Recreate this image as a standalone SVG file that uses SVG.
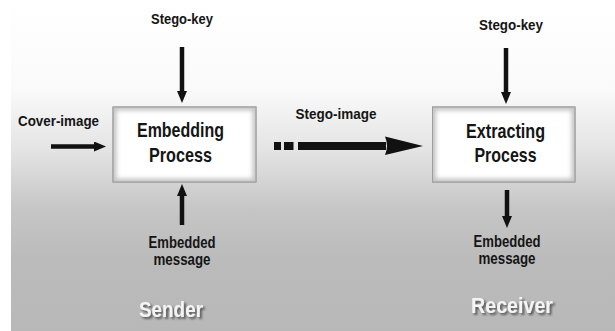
<svg xmlns="http://www.w3.org/2000/svg" width="615" height="331" viewBox="0 0 615 331">
<defs>
<linearGradient id="bg" x1="0" y1="0" x2="0" y2="331" gradientUnits="userSpaceOnUse">
<stop offset="0" stop-color="#ffffff"/>
<stop offset="0.27" stop-color="#fafafa"/>
<stop offset="0.45" stop-color="#e4e4e4"/>
<stop offset="0.63" stop-color="#c6c6c6"/>
<stop offset="0.78" stop-color="#bbbbbb"/>
<stop offset="1" stop-color="#b8b8b8"/>
</linearGradient>
<filter id="blur" x="-10%" y="-10%" width="120%" height="120%"><feGaussianBlur stdDeviation="2"/></filter>
<filter id="shadow" x="-10%" y="-20%" width="130%" height="150%"><feGaussianBlur in="SourceAlpha" stdDeviation="0.8"/><feOffset dx="1.5" dy="1.5" result="o"/><feFlood flood-color="#555"/><feComposite in2="o" operator="in"/><feMerge><feMergeNode/><feMergeNode in="SourceGraphic"/></feMerge></filter>
<clipPath id="c1"><rect x="113" y="107" width="143" height="75"/></clipPath>
<clipPath id="c2"><rect x="432.5" y="107" width="142.5" height="75"/></clipPath>
<marker id="ah" markerUnits="userSpaceOnUse" viewBox="0 0 12 10" markerWidth="12" markerHeight="10" refX="0" refY="5" orient="auto"><path d="M0,0 L12,5 L0,10 z" fill="#111"/></marker>
</defs>
<style>
.t{font-family:"Liberation Sans",Arial,sans-serif;font-weight:bold;fill:#151515;text-anchor:middle}
.s{font-size:15px}
.m{font-size:16px}
.b{font-size:21px}
.w{font-size:22px;fill:#f4f4f4}
.box{fill:#ffffff;stroke:#9c9c9c;stroke-width:1}
.inner{fill:none;stroke:#c4c4c4;stroke-width:7}
.ln{stroke:#111;stroke-width:4.5;fill:none;marker-end:url(#ah)}
</style>
<rect x="0" y="0" width="615" height="331" fill="#ffffff"/>
<rect x="11" y="0" width="604" height="331" fill="url(#bg)"/>

<g id="embedding">
<rect class="box" x="113" y="107" width="143" height="75"/>
<rect class="inner" x="113" y="107" width="143" height="75" filter="url(#blur)" clip-path="url(#c1)"/>
<rect x="113" y="107" width="143" height="75" fill="none" stroke="#9c9c9c"/>
<text class="t b" x="180.5" y="137" textLength="87" lengthAdjust="spacingAndGlyphs">Embedding</text>
<text class="t b" x="180.5" y="162" textLength="63" lengthAdjust="spacingAndGlyphs">Process</text>
</g>
<g id="extracting">
<rect class="box" x="432.5" y="107" width="142.5" height="75"/>
<rect class="inner" x="432.5" y="107" width="142.5" height="75" filter="url(#blur)" clip-path="url(#c2)"/>
<rect x="432.5" y="107" width="142.5" height="75" fill="none" stroke="#9c9c9c"/>
<text class="t b" x="505.5" y="138" textLength="79" lengthAdjust="spacingAndGlyphs">Extracting</text>
<text class="t b" x="505.5" y="162" textLength="62" lengthAdjust="spacingAndGlyphs">Process</text>
</g>
<g id="stegokey-left"><text class="t s" x="182" y="24" textLength="62" lengthAdjust="spacingAndGlyphs">Stego-key</text></g>
<g id="stegokey-right"><text class="t s" x="511" y="30" textLength="64" lengthAdjust="spacingAndGlyphs">Stego-key</text></g>
<g id="cover"><text class="t s" x="58.5" y="126" textLength="81" lengthAdjust="spacingAndGlyphs">Cover-image</text></g>
<g id="stegoimage"><text class="t s" x="336" y="118.5" textLength="81" lengthAdjust="spacingAndGlyphs">Stego-image</text></g>
<g id="msg-left">
<text class="t m" x="182" y="248" textLength="67" lengthAdjust="spacingAndGlyphs">Embedded</text>
<text class="t m" x="182" y="265" textLength="57" lengthAdjust="spacingAndGlyphs">message</text>
</g>
<g id="msg-right">
<text class="t m" x="507" y="247" textLength="67" lengthAdjust="spacingAndGlyphs">Embedded</text>
<text class="t m" x="507" y="263.5" textLength="57" lengthAdjust="spacingAndGlyphs">message</text>
</g>
<g id="sender"><text class="t w" x="171" y="317" textLength="64" lengthAdjust="spacingAndGlyphs" filter="url(#shadow)">Sender</text></g>
<g id="receiver"><text class="t w" x="512" y="312.5" textLength="82" lengthAdjust="spacingAndGlyphs" filter="url(#shadow)">Receiver</text></g>

<g id="connectors">
<line class="ln" x1="182" y1="47" x2="182" y2="91"/>
<line class="ln" x1="506" y1="48" x2="506" y2="92"/>
<line class="ln" x1="51" y1="146.5" x2="94" y2="146.5"/>
<line class="ln" x1="182" y1="225" x2="182" y2="196"/>
<line class="ln" x1="507" y1="190" x2="507" y2="216"/>
<rect x="274" y="142" width="7" height="8" fill="#111"/>
<rect x="284" y="142" width="9.5" height="8" fill="#111"/>
<rect x="298" y="142" width="88" height="8" fill="#111"/>
<path d="M385,136.5 L423,146 L385,155 Q389,146 385,136.5 z" fill="#111"/>
</g>
</svg>
